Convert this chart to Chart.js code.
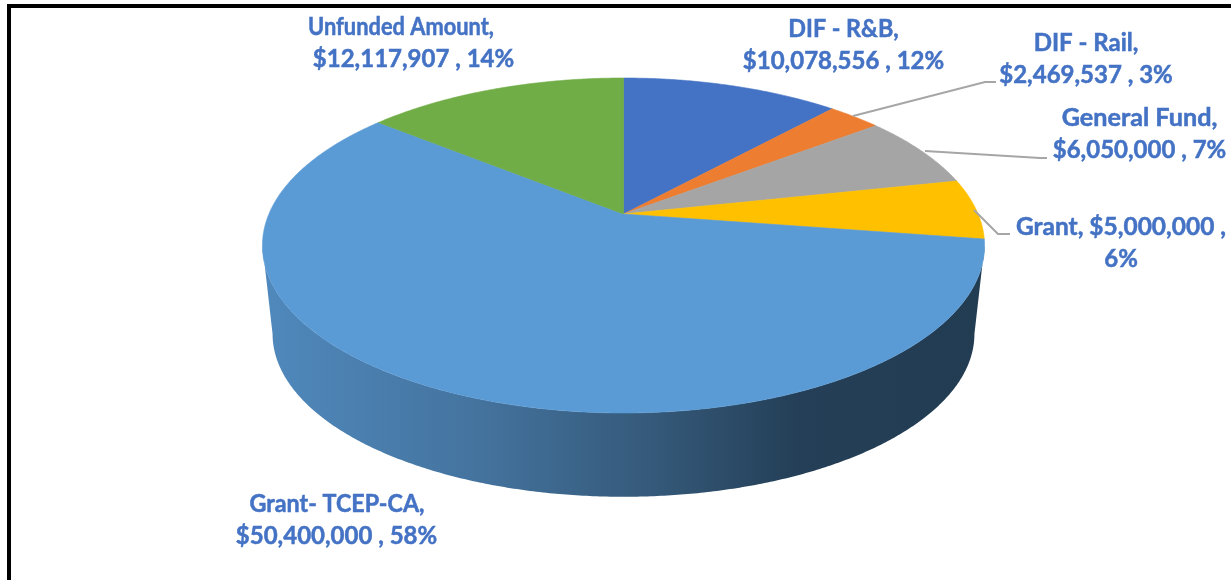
<!DOCTYPE html>
<html>
<head>
<meta charset="utf-8">
<style>
  html, body { margin: 0; padding: 0; background: #fff; overflow: hidden; }
  canvas { display: block; }
</style>
<script src="https://cdn.jsdelivr.net/npm/chart.js@4"></script>
</head>
<body>
<canvas id="mychart" width="1231" height="580"></canvas>
<script>
const categories = ["DIF - R&B", "DIF - Rail", "General Fund", "Grant", "Grant- TCEP-CA", "Unfunded Amount"];
const amounts = [10078556, 2469537, 6050000, 5000000, 50400000, 12117907];
const percents = [12, 3, 7, 6, 58, 14];
const colors = ["#4472C4", "#ED7D31", "#A5A5A5", "#FFC000", "#5B9BD5", "#70AD47"];

// where each data label sits: centre x of each line, first line y, width tweak per line
const labelSpots = [
  { x: [843.5, 843.5], y: 29, squeeze: [0.97, 1] },
  { x: [1086, 1086], y: 43, squeeze: [1, 1] },
  { x: [1139.5, 1139.5], y: 118, squeeze: [1.05, 1] },
  { x: [1121, 1121], y: 227, squeeze: [1.02, 1], wrapLate: true },
  { x: [337, 336.5], y: 504, squeeze: [0.97, 1] },
  { x: [401, 413.5], y: 27, squeeze: [0.91, 1] },
];
const leaders = [
  null,
  [[853, 116], [985, 82], [996, 82]],
  [[925, 151], [1040, 158], [1047, 158]],
  [[974, 210], [998, 234], [1010, 234]],
  null,
  null,
];

// the pie is tilted with some perspective, so the apex is not at the ellipse centre
const tilt = { fx: 1.657, fy: 0.755, k: 0.188 };
const wall = { scale: 0.972, drop: 88.5 };
const wallFrom = Math.asin(tilt.k);
const wallTo = Math.PI - wallFrom;

function project(arc, angle, isBottom) {
  const u = Math.cos(angle);
  const v = Math.sin(angle);
  const w = 1 - tilt.k * v;
  const dx = (arc.outerRadius * tilt.fx * u) / w;
  const dy = (arc.outerRadius * tilt.fy * v) / w;
  if (!isBottom) return [arc.x + dx, arc.y + dy];
  // bottom rim is the top rim shrunk about the ellipse centre and dropped
  const midY = (arc.outerRadius * tilt.fy * tilt.k) / (1 - tilt.k * tilt.k);
  return [arc.x + dx * wall.scale, arc.y + midY + (dy - midY) * wall.scale + wall.drop];
}

function traceRim(ctx, arc, from, to, isBottom) {
  const steps = Math.max(2, Math.ceil(Math.abs(to - from) / 0.008));
  for (let i = 0; i <= steps; i++) {
    const p = project(arc, from + ((to - from) * i) / steps, isBottom);
    ctx.lineTo(p[0], p[1]);
  }
}

function drawWall(ctx, arc) {
  const lo = Math.max(arc.startAngle, wallFrom);
  const hi = Math.min(arc.endAngle, wallTo);
  if (hi <= lo) return;
  const grad = ctx.createLinearGradient(262, 0, 985, 0);
  grad.addColorStop(0, "#5089BD");
  grad.addColorStop(0.3, "#44739E");
  grad.addColorStop(0.55, "#345878");
  grad.addColorStop(0.74, "#243F57");
  grad.addColorStop(1, "#223C52");
  ctx.beginPath();
  traceRim(ctx, arc, lo, hi, false);
  traceRim(ctx, arc, hi, lo, true);
  ctx.closePath();
  ctx.fillStyle = grad;
  ctx.fill();
}

function drawFace(ctx, arc) {
  ctx.beginPath();
  ctx.moveTo(arc.x, arc.y);
  traceRim(ctx, arc, arc.startAngle, arc.endAngle, false);
  ctx.closePath();
  ctx.fillStyle = arc.options.backgroundColor;
  ctx.fill();
  ctx.strokeStyle = arc.options.backgroundColor;
  ctx.lineWidth = 0.6;
  ctx.stroke();
}

const tiltedPie = {
  id: "tiltedPie",
  beforeDatasetsDraw(chart) {
    const ctx = chart.ctx;
    const arcs = chart.getDatasetMeta(0).data;
    ctx.save();
    arcs.forEach((arc) => drawWall(ctx, arc));
    arcs.forEach((arc) => drawFace(ctx, arc));
    ctx.restore();
    return false;
  },
  afterDraw(chart) {
    const ctx = chart.ctx;
    ctx.save();
    // frame, only top and left show in the crop
    ctx.fillStyle = "#000";
    ctx.fillRect(7, 4, 1224, 4);
    ctx.fillRect(7, 4, 4, 576);

    ctx.strokeStyle = "#A6A6A6";
    ctx.lineWidth = 2;
    leaders.forEach((pts) => {
      if (!pts) return;
      ctx.beginPath();
      pts.forEach((p, i) => (i ? ctx.lineTo(p[0], p[1]) : ctx.moveTo(p[0], p[1])));
      ctx.stroke();
    });

    ctx.font = "bold 24px Lato";
    ctx.fillStyle = "#4472C4";
    ctx.strokeStyle = "#4472C4";
    ctx.lineWidth = 0.5;
    ctx.textAlign = "center";
    ctx.textBaseline = "middle";
    categories.forEach((name, i) => {
      const spot = labelSpots[i];
      const money = "$" + amounts[i].toLocaleString("en-US");
      const lines = spot.wrapLate
        ? [name + ", " + money + " ,", percents[i] + "%"]
        : [name + ",", money + " , " + percents[i] + "%"];
      lines.forEach((line, n) => {
        ctx.save();
        ctx.translate(spot.x[n], spot.y + n * 32.5);
        ctx.scale(spot.squeeze[n], 1);
        ctx.fillText(line, 0, 0);
        ctx.strokeText(line, 0, 0);
        ctx.restore();
      });
    });
    ctx.restore();
  },
};

new Chart(document.getElementById("mychart").getContext("2d"), {
  type: "pie",
  data: {
    labels: categories,
    datasets: [{ data: amounts, backgroundColor: colors, borderWidth: 0 }],
  },
  options: {
    responsive: false,
    animation: false,
    layout: { padding: { left: 16, bottom: 152 } },
    plugins: { legend: { display: false }, tooltip: { enabled: false } },
  },
  plugins: [tiltedPie],
});
</script>
</body>
</html>
